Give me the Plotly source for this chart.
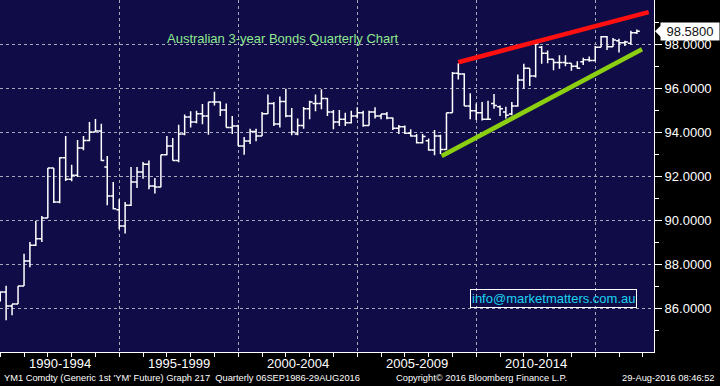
import plotly.graph_objects as go
import pandas as pd

# ---------------- data (quarterly OHLC, YM1 Comdty) ----------------
first_quarter = "1989Q4"
opens = [86.40, 86.73, 86.09, 86.18, 87.00, 88.14, 88.85, 89.15, 90.09, 92.36,
         90.82, 92.83, 91.85, 92.03, 93.27, 93.61, 94.00, 94.04, 92.41, 91.09,
         90.47, 89.73, 90.67, 91.73, 92.18, 92.53, 91.55, 91.50, 92.97, 93.36,
         92.71, 93.91, 94.68, 94.45, 94.83, 94.73, 95.36, 95.36, 95.00, 94.21,
         94.27, 93.36, 93.59, 94.02, 93.82, 94.83, 95.30, 94.36, 95.39, 94.73,
         93.91, 94.30, 95.06, 95.30, 95.30, 95.52, 94.91, 94.45, 94.58, 94.42,
         94.73, 94.88, 94.30, 94.91, 94.73, 94.82, 94.64, 94.17, 94.24, 93.94,
         93.82, 93.51, 93.60, 93.18, 93.82, 93.21, 94.88, 96.67, 96.64, 95.18,
         94.97, 94.88, 94.58, 95.30, 95.15, 94.91, 94.82, 95.18, 96.36, 96.90,
         96.54, 97.85, 97.58, 97.31, 97.16, 97.16, 97.13, 96.99, 97.19, 97.28,
         97.25, 97.85, 98.33, 97.88, 98.15, 98.06, 98.03, 98.51]
highs = [86.76, 87.01, 86.17, 87.00, 88.47, 89.00, 89.97, 90.18, 92.36, 92.36,
         92.85, 93.82, 92.51, 93.64, 93.82, 94.45, 94.59, 94.38, 92.91, 91.73,
         90.94, 90.82, 92.41, 92.41, 92.64, 92.71, 91.91, 92.97, 93.82, 93.73,
         94.33, 94.79, 94.94, 94.97, 95.27, 95.36, 95.83, 95.39, 95.30, 94.73,
         94.33, 93.77, 94.15, 94.15, 94.91, 95.70, 95.36, 95.61, 95.97, 95.09,
         94.61, 95.14, 95.42, 95.70, 95.94, 95.55, 95.00, 95.00, 94.88, 94.97,
         95.12, 94.97, 94.97, 95.12, 94.82, 94.91, 94.66, 94.32, 94.30, 94.12,
         93.91, 93.91, 93.70, 94.09, 93.88, 94.88, 96.73, 97.12, 96.67, 95.76,
         95.30, 95.36, 95.42, 95.73, 95.21, 95.15, 95.36, 96.61, 97.10, 96.90,
         98.00, 97.91, 97.70, 97.31, 97.49, 97.49, 97.13, 97.22, 97.37, 97.43,
         97.91, 98.36, 98.36, 98.27, 98.24, 98.15, 98.60, 98.66]
lows = [86.30, 85.44, 85.67, 86.18, 87.00, 87.85, 88.82, 89.00, 90.09, 90.77,
        90.76, 91.77, 91.76, 91.95, 93.17, 93.58, 94.00, 92.68, 90.67, 90.48,
        89.58, 89.39, 90.64, 91.45, 91.88, 91.40, 91.21, 91.49, 92.94, 92.71,
        92.62, 93.85, 94.21, 94.40, 94.35, 93.88, 95.21, 94.73, 94.21, 93.91,
        93.36, 92.97, 93.45, 93.58, 93.82, 94.82, 94.27, 94.21, 94.67, 93.85,
        93.85, 94.15, 94.58, 94.94, 95.03, 94.73, 94.12, 94.27, 94.27, 94.39,
        94.61, 94.24, 94.30, 94.61, 94.58, 94.58, 94.09, 93.91, 93.91, 93.79,
        93.48, 93.48, 93.15, 92.94, 93.00, 93.18, 94.88, 96.39, 95.18, 94.58,
        94.55, 94.52, 94.55, 95.06, 94.73, 94.61, 94.76, 95.15, 95.97, 96.09,
        96.48, 97.10, 97.13, 96.81, 96.87, 96.99, 96.78, 96.87, 97.04, 97.19,
        97.22, 97.85, 97.73, 97.88, 97.61, 97.91, 97.97, 98.45]
closes = [86.73, 86.09, 86.18, 87.00, 88.14, 88.85, 89.15, 90.09, 92.36, 90.82,
          92.83, 91.85, 92.03, 93.27, 93.61, 94.00, 94.04, 92.71, 91.09, 90.51,
          89.73, 90.67, 91.73, 92.18, 92.53, 91.55, 91.50, 92.97, 93.36, 92.71,
          93.91, 94.68, 94.45, 94.83, 94.73, 95.36, 95.36, 95.00, 94.21, 94.27,
          93.36, 93.59, 94.02, 93.82, 94.83, 95.30, 94.36, 95.39, 94.73, 94.00,
          94.30, 95.06, 95.36, 95.30, 95.52, 94.91, 94.45, 94.58, 94.42, 94.73,
          94.88, 94.30, 94.91, 94.73, 94.82, 94.64, 94.17, 94.24, 93.94, 93.82,
          93.51, 93.79, 93.18, 93.82, 93.21, 94.88, 96.67, 96.64, 95.18, 94.97,
          94.88, 94.58, 94.58, 95.20, 95.06, 94.76, 95.18, 96.36, 96.90, 96.54,
          98.00, 97.58, 97.31, 97.16, 97.16, 97.13, 96.99, 96.90, 97.28, 97.25,
          97.85, 98.33, 97.88, 98.18, 98.06, 98.09, 98.51, 98.58]

# axis ticks / labels
y_tick_values = [86, 88, 90, 92, 94, 96, 98]
y_minor_values = [85, 87, 89, 91, 93, 95, 97, 99]
period_bounds = ["1990-01-01", "1995-01-01", "2000-01-01", "2005-01-01", "2010-01-01", "2015-01-01"]
period_labels = ["1990-1994", "1995-1999", "2000-2004", "2005-2009", "2010-2014"]
year_ticks = [f"{y}-01-01" for y in range(1990, 2018)]
x_range = ["1989-12-27", "2017-06-20"]
y_range = [84, 100]

# trend lines drawn on the chart
red_trend_dates = ["2009-03-30", "2017-03-30"]
red_trend_values = [97.17, 99.45]
green_trend_dates = ["2008-07-19", "2016-12-18"]
green_trend_values = [92.91, 97.76]

title_text = "Australian 3-year Bonds Quarterly Chart"
email_text = "info@marketmatters.com.au"
footer_left = "YM1 Comdty (Generic 1st 'YM' Future) Graph 217  Quarterly 06SEP1986-29AUG2016"
footer_mid = "Copyright\u00a9 2016 Bloomberg Finance L.P."
footer_right = "29-Aug-2016 08:46:52"

# ---------------- build ----------------
quarters = pd.period_range(first_quarter, periods=len(closes), freq="Q")
dates = [q.end_time.normalize() for q in quarters]
last_price = closes[-1]

BG = "#100c48"
GRID = "#a8a8b8"
FONT = "Liberation Sans, Arial, sans-serif"

fig = go.Figure()
fig.add_trace(go.Ohlc(
    x=dates, open=opens, high=highs, low=lows, close=closes,
    increasing=dict(line=dict(color="white", width=1.5)),
    decreasing=dict(line=dict(color="white", width=1.5)),
    tickwidth=0.5, showlegend=False, hoverinfo="x+y",
))
fig.add_trace(go.Scatter(x=red_trend_dates, y=red_trend_values, mode="lines",
                         line=dict(color="#ff1010", width=4.5), showlegend=False))
fig.add_trace(go.Scatter(x=green_trend_dates, y=green_trend_values, mode="lines",
                         line=dict(color="#8ccf10", width=4.5), showlegend=False))

annotations = []
for a, b, lab in zip(period_bounds[:-1], period_bounds[1:], period_labels):
    mid = pd.Timestamp(a) + (pd.Timestamp(b) - pd.Timestamp(a)) / 2
    annotations.append(dict(x=mid, xref="x", y=0, yref="paper", xanchor="center",
                            yanchor="middle", yshift=-11,
                            text=lab, showarrow=False,
                            font=dict(family=FONT, size=13, color="white")))
annotations += [
    dict(x=0.432, y=0.892, xref="paper", yref="paper", xanchor="center", yanchor="middle",
         text=title_text, showarrow=False,
         font=dict(family=FONT, size=13, color="#8fe88f")),
    dict(x=0.8463, y=0.1506, xref="paper", yref="paper", xanchor="center", yanchor="middle",
         text=email_text, showarrow=False,
         font=dict(family=FONT, size=13, color="#19d3f0"), bordercolor="white",
         borderwidth=1, borderpad=1),
    dict(x=1, xshift=6, xanchor="left", yanchor="middle", y=last_price, xref="paper", yref="y",
         text=f"{last_price:.4f}", showarrow=False, bgcolor="white",
         font=dict(family=FONT, size=13, color="#101010"), borderpad=1, width=56),
    dict(x=0.003, y=0, yshift=-26, xref="paper", yref="paper", xanchor="left", yanchor="middle",
         text=footer_left, showarrow=False, font=dict(family=FONT, size=9.3, color="white")),
    dict(x=0.7355, y=0, yshift=-26, xref="paper", yref="paper", xanchor="center", yanchor="middle",
         text=footer_mid, showarrow=False, font=dict(family=FONT, size=9.3, color="white")),
    dict(x=1.096, y=0, yshift=-26, xref="paper", yref="paper", xanchor="right", yanchor="middle",
         text=footer_right, showarrow=False, font=dict(family=FONT, size=9.3, color="white")),
]

shapes = [dict(type="path", xref="paper", yref="y", fillcolor="white", line=dict(width=0),
               path=f"M 1.0015,{last_price} L 1.0110,{last_price + 0.27} L 1.0110,{last_price - 0.27} Z")]

fig.update_layout(
    width=720, height=386,
    margin=dict(l=0, r=66, t=0, b=34),
    paper_bgcolor="black", plot_bgcolor=BG,
    showlegend=False,
    annotations=annotations, shapes=shapes,
    xaxis=dict(
        type="date", range=x_range, rangeslider=dict(visible=False),
        tickmode="array", tickvals=period_bounds, ticktext=[""] * len(period_bounds),
        ticks="outside", ticklen=18, tickcolor="#8a8a8a", tickwidth=1,
        showgrid=True, gridcolor=GRID, gridwidth=1, griddash="3px,3px",
        showline=True, linecolor="white", linewidth=1,
        minor=dict(tickvals=year_ticks, ticks="outside", ticklen=4, tickcolor="white",
                   showgrid=False),
        zeroline=False, fixedrange=True,
    ),
    yaxis=dict(
        side="right", range=y_range,
        tickmode="array", tickvals=y_tick_values,
        ticktext=[f"{v:.4f}" for v in y_tick_values],
        ticks="outside", ticklen=7, tickcolor="white", tickwidth=1,
        tickfont=dict(family=FONT, size=13, color="white"),
        showgrid=True, gridcolor=GRID, gridwidth=1, griddash="3px,3px",
        showline=True, linecolor="white", linewidth=1,
        minor=dict(tickvals=y_minor_values, ticks="outside", ticklen=4, tickcolor="white",
                   showgrid=False),
        zeroline=False, fixedrange=True,
    ),
)

fig.write_html("out.html", config={"displayModeBar": False},
               post_script="document.body.style.margin='0';document.body.style.background='black';")
